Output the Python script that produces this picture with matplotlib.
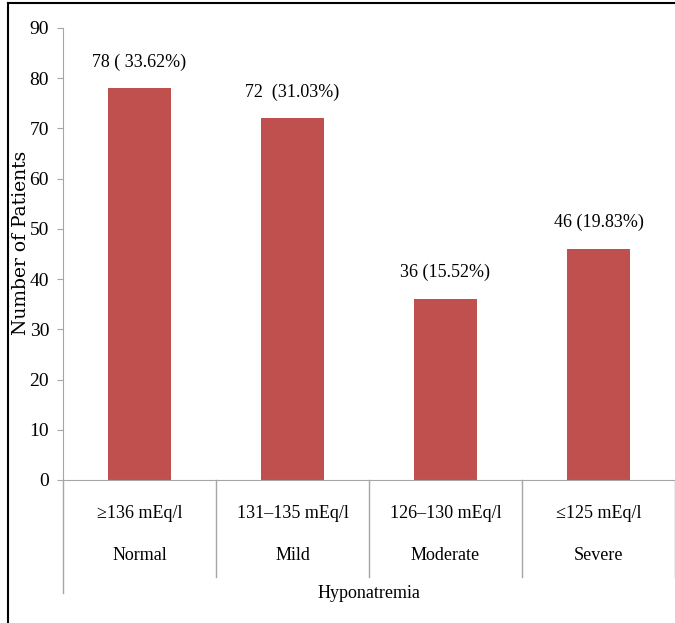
import matplotlib
matplotlib.use("Agg")
import matplotlib.pyplot as plt
from matplotlib.lines import Line2D
import matplotlib.transforms as mtransforms

plt.rcParams['font.family'] = ['Liberation Serif', 'DejaVu Serif']

# data
categories = ["Normal", "Mild", "Moderate", "Severe"]
ranges = ["≥136 mEq/l", "131–135 mEq/l", "126–130 mEq/l", "≤125 mEq/l"]
patients = [78, 72, 36, 46]
bar_labels = ["78 ( 33.62%)", "72  (31.03%)", "36 (15.52%)", "46 (19.83%)"]

bar_color = "#C0504D"
grey = "#A6A6A6"

fig = plt.figure(figsize=(6.75, 6.23), dpi=100)
ax = fig.add_axes([63 / 675, 1 - 480 / 623, 1 - 63 / 675, (480 - 28) / 623])

x = list(range(len(categories)))
ax.bar(x, patients, width=0.41, color=bar_color)

for xi, v, lab in zip(x, patients, bar_labels):
    ax.annotate(lab, (xi, v), xytext=(0, 19), textcoords="offset points",
                ha="center", va="center", fontsize=13)

ax.set_xlim(-0.5, 3.5)
ax.set_ylim(0, 90)
ax.set_yticks(range(0, 91, 10))
ax.tick_params(axis="y", labelsize=14, length=4, color=grey, pad=6)
ax.set_xticks([])

for s in ["top", "right"]:
    ax.spines[s].set_visible(False)
ax.spines["left"].set_color(grey)
ax.spines["bottom"].set_color(grey)

# category labels below the axis, separated by divider lines
trans = mtransforms.blended_transform_factory(ax.transData, ax.transAxes)
ax_h = (480 - 28)
for xi, r, c in zip(x, ranges, categories):
    ax.text(xi, -(513 - 480) / ax_h, r, transform=trans, ha="center", va="center", fontsize=13)
    ax.text(xi, -(556 - 480) / ax_h, c, transform=trans, ha="center", va="center", fontsize=13)

for b in [-0.5, 0.5, 1.5, 2.5, 3.5]:
    end = 593 if b == -0.5 else 577
    ax.plot([b, b], [0, -(end - 480) / ax_h], transform=trans, color=grey,
            lw=1, clip_on=False)

ax.text(1.5, -(593 - 480) / ax_h, "Hyponatremia", transform=trans,
        ha="center", va="center", fontsize=13)

fig.text(21 / 675, 1 - 243 / 623, "Number of Patients", rotation=90,
         ha="center", va="center", fontsize=13.5, family="DejaVu Serif")

# outer frame (left and top edges visible)
fx = 8 / 675
fy = 1 - 3 / 623
fig.add_artist(Line2D([fx, fx], [0, fy], color="black", lw=1.5, transform=fig.transFigure))
fig.add_artist(Line2D([fx, 1], [fy, fy], color="black", lw=1.5, transform=fig.transFigure))

fig.savefig("out.png", dpi=100)
